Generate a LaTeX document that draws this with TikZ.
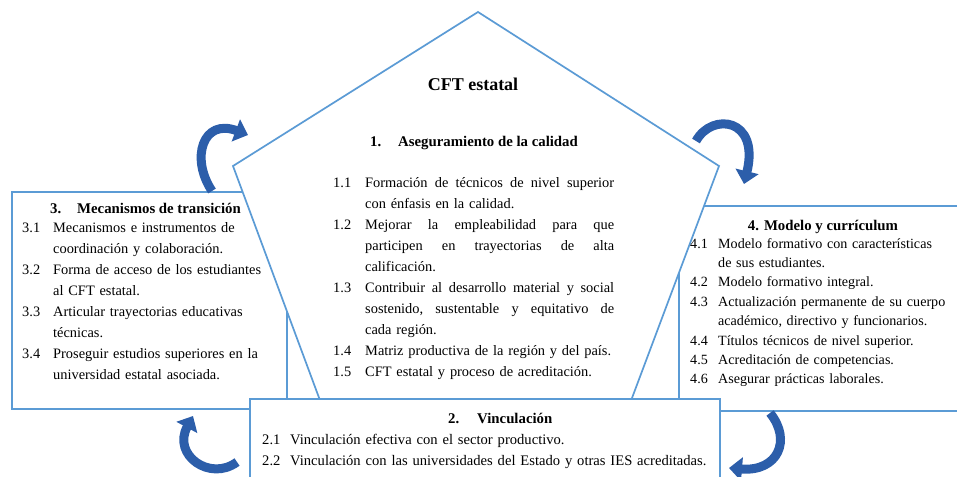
\documentclass[tikz,border=0pt]{standalone}
\usepackage{fontspec}
\setmainfont{Liberation Serif}
\usetikzlibrary{arrows.meta}
\definecolor{lineblue}{HTML}{5B9BD5}
\definecolor{arrowblue}{HTML}{2C5EAA}
\newcommand\fsbody{\fontsize{14.4}{20.9}\selectfont}
\newcommand\fshead{\fontsize{14.8}{20.9}\selectfont}
\newcommand\fsboxfour{\fontsize{14.1}{19.4}\selectfont}
\newcommand\fsboxtwo{\fontsize{14.6}{21}\selectfont}
\newcommand\jline[1]{\makebox[249pt][l]{#1}}
\begin{document}
\begin{tikzpicture}[x=1pt,y=-1pt,
  boxline/.style={draw=lineblue, line width=1.7pt, fill=white, line join=miter},
  cyc/.style={draw=arrowblue, line width=9pt, -{Triangle[width=23pt,length=13pt]}},
  listtxt/.style={inner sep=0pt, anchor=north west, font=\fsbody, align=left},
  headtxt/.style={inner sep=0pt, font=\fshead\bfseries},
]
\useasboundingbox (0,0) rectangle (957,476);
\clip (0,0) rectangle (957,476);
\fill[white] (0,0) rectangle (957,476);

% boxes (back to front)
\draw[boxline] (12,192) rectangle (287,409);
\draw[boxline] (679,206) rectangle (975,411);
\draw[boxline] (478,12) -- (719,166) -- (620,430) -- (331,430) -- (233,166) -- cycle;
\draw[boxline] (250,399) rectangle (720,500);

% pentagon texts
\node[inner sep=0pt, anchor=base, font=\bfseries\fontsize{18}{20}\selectfont] (title) at (473,91) {CFT estatal};
\node[headtxt, anchor=base west] (h1) at (370,146) {\makebox[28pt][l]{1.}Aseguramiento de la calidad};
\node[listtxt, text width=290pt] (l1) at (333,173.1) {%
\strut\makebox[32pt][l]{1.1}\jline{Formación\hfill de\hfill técnicos\hfill de\hfill nivel\hfill superior}\\
\hspace*{32pt}con énfasis en la calidad.\\
\makebox[32pt][l]{1.2}\jline{Mejorar\hfill la\hfill empleabilidad\hfill para\hfill que}\\
\hspace*{32pt}\jline{participen\hfill en\hfill trayectorias\hfill de\hfill alta}\\
\hspace*{32pt}calificación.\\
\makebox[32pt][l]{1.3}\jline{Contribuir\hfill al\hfill desarrollo\hfill material\hfill y\hfill social}\\
\hspace*{32pt}\jline{sostenido,\hfill sustentable\hfill y\hfill equitativo\hfill de}\\
\hspace*{32pt}cada región.\\
\makebox[32pt][l]{1.4}Matriz productiva de la región y del país.\\
\makebox[32pt][l]{1.5}CFT estatal y proceso de acreditación.};

% box 3
\node[headtxt, anchor=base west] (h3) at (50,213) {\makebox[27pt][l]{3.}Mecanismos de transición};
\node[listtxt, text width=270pt] (l3) at (22,218.1) {%
\strut\makebox[31pt][l]{3.1}Mecanismos e instrumentos de\\
\hspace*{31pt}coordinación y colaboración.\\
\makebox[31pt][l]{3.2}Forma de acceso de los estudiantes\\
\hspace*{31pt}al CFT estatal.\\
\makebox[31pt][l]{3.3}Articular trayectorias educativas\\
\hspace*{31pt}técnicas.\\
\makebox[31pt][l]{3.4}Proseguir estudios superiores en la\\
\hspace*{31pt}universidad estatal asociada.};

% box 4
\node[headtxt, anchor=base] (h4) at (823,230) {4. Modelo y currículum};
\node[listtxt, font=\fsboxfour, text width=280pt] (l4) at (690,234.4) {%
\strut\makebox[28pt][l]{4.1}Modelo formativo con características\\
\hspace*{28pt}de sus estudiantes.\\
\makebox[28pt][l]{4.2}Modelo formativo integral.\\
\makebox[28pt][l]{4.3}Actualización permanente de su cuerpo\\
\hspace*{28pt}académico, directivo y funcionarios.\\
\makebox[28pt][l]{4.4}Títulos técnicos de nivel superior.\\
\makebox[28pt][l]{4.5}Acreditación de competencias.\\
\makebox[28pt][l]{4.6}Asegurar prácticas laborales.};

% box 2
\node[headtxt, anchor=base west] (h2) at (448,423) {\makebox[29pt][l]{2.}Vinculación};
\node[listtxt, font=\fsboxtwo, text width=460pt] (l2) at (262,429.8) {%
\strut\makebox[28pt][l]{2.1}Vinculación efectiva con el sector productivo.\\
\makebox[28pt][l]{2.2}Vinculación con las universidades del Estado y otras IES acreditadas.};

% cycle arrows
\coordinate (a1s) at (212,191); \coordinate (a1e) at (248,135);
\coordinate (a2s) at (696,141); \coordinate (a2e) at (744,184);
\coordinate (a3s) at (770,413); \coordinate (a3e) at (729,468);
\coordinate (a4s) at (237,462); \coordinate (a4e) at (193,416);
\draw[cyc] (a1s) .. controls (190,158) and (203,118) .. (a1e);
\draw[cyc] (a2s) .. controls (712,112) and (760,118) .. (a2e);
\draw[cyc] (a3s) .. controls (792,440) and (778,472) .. (a3e);
\draw[cyc] (a4s) .. controls (210,482) and (172,455) .. (a4e);
\end{tikzpicture}
\end{document}
